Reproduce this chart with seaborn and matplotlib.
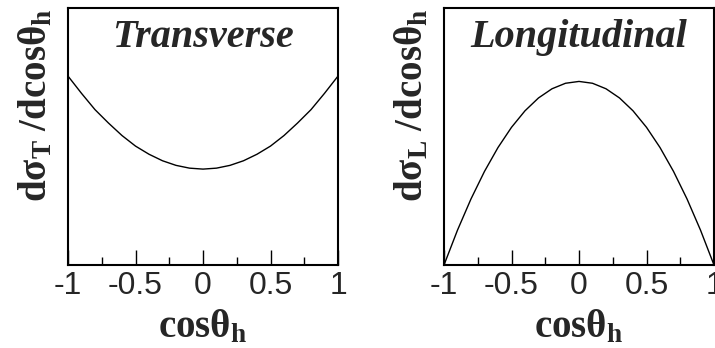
import matplotlib
matplotlib.use("Agg")
import matplotlib.pyplot as plt
import seaborn as sns
import pandas as pd

# Values (arbitrary units, centre of transverse = 1)
cos_theta = [-1.0, -0.9, -0.8, -0.7, -0.6, -0.5, -0.4, -0.3, -0.2, -0.1, 0.0,
             0.1, 0.2, 0.3, 0.4, 0.5, 0.6, 0.7, 0.8, 0.9, 1.0]
transverse = [1.97, 1.79, 1.62, 1.48, 1.35, 1.24, 1.155, 1.087, 1.039, 1.01, 1.0,
              1.01, 1.039, 1.087, 1.155, 1.24, 1.35, 1.48, 1.62, 1.79, 1.97]
longitudinal = [0.0, 0.19, 0.36, 0.51, 0.64, 0.75, 0.84, 0.91, 0.96, 0.99, 1.0,
                0.99, 0.96, 0.91, 0.84, 0.75, 0.64, 0.51, 0.36, 0.19, 0.0]
major_ticks = [-1, -0.5, 0, 0.5, 1]
minor_ticks = [-0.75, -0.25, 0.25, 0.75]
tick_labels = ["-1", "-0.5", "0", "0.5", "1"]

sns.set_theme(style="white")
plt.rcParams["font.family"] = ["Liberation Sans", "DejaVu Sans"]
plt.rcParams["mathtext.fontset"] = "custom"
plt.rcParams["mathtext.rm"] = "Liberation Serif:bold"
plt.rcParams["mathtext.it"] = "Liberation Serif:bold"
plt.rcParams["mathtext.bf"] = "Liberation Serif:bold"

W, H = 715, 348
fig = plt.figure(figsize=(W / 100, H / 100), dpi=100)

panels = [
    (68, transverse, 2.68, "Transverse", r"dσ$_{\mathrm{T}}$ /dcosθ$_{\mathrm{h}}$"),
    (444, longitudinal, 1.40, "Longitudinal", r"dσ$_{\mathrm{L}}$ /dcosθ$_{\mathrm{h}}$"),
]

for left, values, ytop, title, ylabel in panels:
    ax = fig.add_axes([left / W, (H - 265) / H, 270 / W, 257 / H])
    df = pd.DataFrame({"x": cos_theta, "y": values})
    sns.lineplot(data=df, x="x", y="y", ax=ax, color="black", linewidth=1.0)
    ax.set_xlim(-1, 1)
    ax.set_ylim(0, ytop)
    ax.set_xticks(major_ticks)
    ax.set_xticklabels(tick_labels, fontsize=23, family=["Liberation Sans"])
    ax.set_xticks(minor_ticks, minor=True)
    ax.set_yticks([])
    ax.tick_params(axis="x", which="major", direction="in", length=11, width=1,
                   color="black", bottom=True, pad=4)
    ax.tick_params(axis="x", which="minor", direction="in", length=6, width=1,
                   color="black", bottom=True)
    for spine in ax.spines.values():
        spine.set_color("black")
        spine.set_linewidth(1.5)
    ax.set_xlabel("cosθ$_{\\mathrm{h}}$", fontsize=28, family=["Liberation Serif"],
                  fontweight="bold", labelpad=6)
    ax.set_ylabel(ylabel, fontsize=28, family=["Liberation Serif"],
                  fontweight="bold", loc="top", labelpad=9)
    ax.text(0.5, 0.848, title, transform=ax.transAxes, ha="center", va="baseline",
            fontsize=29, family=["Liberation Serif"], fontweight="bold",
            fontstyle="italic")

fig.savefig("out.png", dpi=100)
